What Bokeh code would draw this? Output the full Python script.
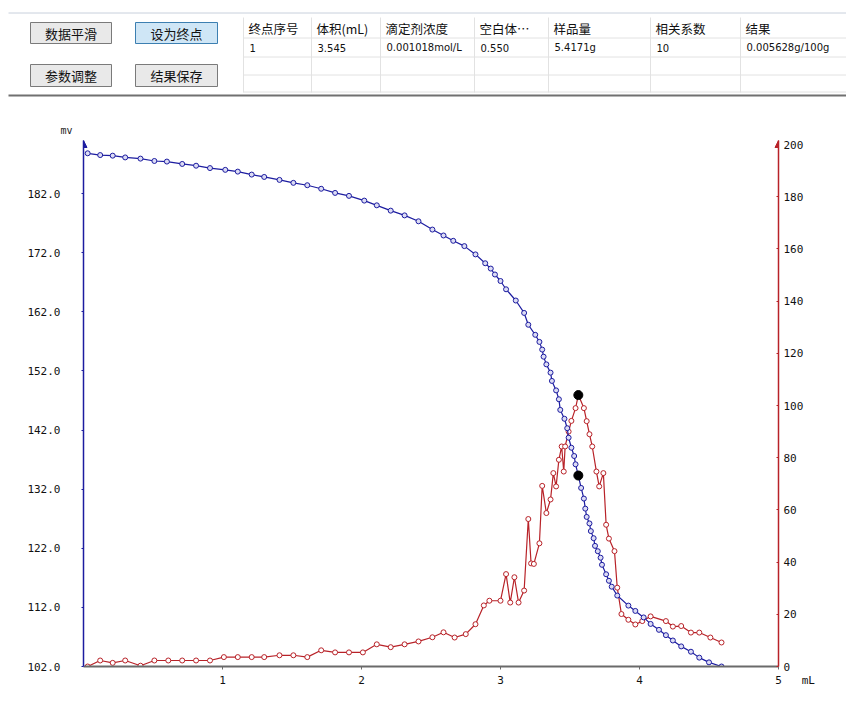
from bokeh.plotting import figure
from bokeh.models import Range1d, LinearAxis, FixedTicker, NumeralTickFormatter, Arrow, NormalHead
from bokeh.core.properties import value
from bokeh.embed import file_html
from bokeh.resources import INLINE

# ---------------- data ----------------
# titration curve: volume (mL) vs potential (mV)
vol_e = [0.03, 0.12, 0.21, 0.30, 0.41, 0.51, 0.60, 0.71, 0.81, 0.91, 1.02, 1.11, 1.21, 1.30, 1.41, 1.51, 1.61, 1.71,
         1.81, 1.91, 2.02, 2.11, 2.21, 2.31, 2.41, 2.51, 2.59, 2.66, 2.74, 2.82, 2.89, 2.93, 2.96, 3.00, 3.04, 3.11,
         3.17, 3.20, 3.25, 3.28, 3.30, 3.31, 3.33, 3.36, 3.37, 3.40, 3.42, 3.43, 3.46, 3.48, 3.49, 3.51, 3.53, 3.54, 3.56,
         3.58, 3.60, 3.61, 3.62, 3.64, 3.65, 3.67, 3.68, 3.70, 3.72, 3.73, 3.76, 3.78, 3.80, 3.84, 3.92, 3.97, 4.03,
         4.08, 4.14, 4.19, 4.24, 4.30, 4.37, 4.43, 4.50, 4.59]
mv = [188.8, 188.5, 188.4, 188.1, 187.9, 187.5, 187.4, 187.0, 186.7, 186.3, 186.0, 185.7, 185.2, 184.8, 184.3, 183.8, 183.4, 182.8,
      182.1, 181.6, 180.8, 180.0, 179.1, 178.3, 177.3, 175.9, 174.9, 174.0, 173.1, 171.7, 170.2, 169.3, 168.3, 167.2, 165.8, 163.9,
      161.8, 159.8, 158.1, 156.9, 155.6, 154.4, 153.1, 151.7, 150.3, 148.7, 147.2, 145.4, 143.9, 142.3, 140.7, 139.0, 137.6, 136.2, 134.3,
      132.2, 130.4, 128.7, 127.3, 126.2, 124.9, 123.7, 122.4, 121.5, 120.4, 119.2, 117.6, 116.5, 115.5, 114.0, 112.3, 111.4, 110.3,
      109.2, 108.2, 107.3, 106.4, 105.4, 104.5, 103.5, 102.7, 102.0]

# first derivative curve (right axis)
vol_d = [0.03, 0.12, 0.21, 0.30, 0.41, 0.51, 0.61, 0.71, 0.81, 0.91, 1.01, 1.11, 1.21, 1.30, 1.41, 1.51, 1.61, 1.71, 1.81, 1.91, 2.01, 2.11, 2.21,
         2.31, 2.41, 2.51, 2.59, 2.67, 2.75, 2.82, 2.88, 2.92, 3.00, 3.04, 3.07, 3.10, 3.13, 3.17, 3.20, 3.22, 3.24, 3.28, 3.30,
         3.33, 3.36, 3.38, 3.40, 3.42, 3.44, 3.455, 3.465, 3.49, 3.51, 3.54, 3.56,
         3.60, 3.62, 3.64, 3.66, 3.69, 3.71, 3.74, 3.76, 3.78, 3.82, 3.84, 3.87, 3.92, 3.97, 4.02, 4.08, 4.19, 4.24, 4.30, 4.37,
         4.43, 4.51, 4.59]
dv = [0, 2.3, 1.4, 2.3, 0.3, 2.3, 2.3, 2.3, 2.3, 2.3, 3.6, 3.6, 3.6, 3.6, 4.3, 4.3, 3.6, 6.2, 5.4, 5.4, 5.4, 8.5, 7.4,
      8.5, 9.6, 11.2, 13.1, 11.1, 12.4, 16.2, 23.4, 25.2, 25.2, 35.4, 24.5, 34.2, 24.5, 29.1, 56.5, 39.5, 39.3, 47.2, 69.2,
      58.8, 64.0, 74.1, 69.0, 79.2, 84.3, 74.7, 84.3, 90.0, 94.1, 99.0, 104.0,
      99.0, 94.0, 89.0, 84.3, 74.7, 69.0, 74.1, 54.3, 49.0, 44.2, 30.2, 20.1, 17.9, 16.1, 17.4, 19.2, 17.4, 15.3, 15.5, 13.0,
      13.0, 11.1, 9.2]

# endpoint markers
ep_vol = [3.56]
ep_mv = [134.3]
ep_dv = [104.0]

left_ticks = [102, 112, 122, 132, 142, 152, 162, 172, 182]
right_ticks = [0, 20, 40, 60, 80, 100, 120, 140, 160, 180, 200]
x_ticks = [1, 2, 3, 4, 5]
y_unit = "mv"
x_unit = "mL"

# header panel content
buttons = ["数据平滑", "设为终点", "参数调整", "结果保存"]
table_headers = ["终点序号", "体积(mL)", "滴定剂浓度", "空白体…", "样品量", "相关系数", "结果"]
table_row = ["1", "3.545", "0.001018mol/L", "0.550", "5.4171g", "10", "0.005628g/100g"]

BLUE = "#1c1ca0"
RED = "#b82228"
MONO = "DejaVu Sans Mono"

# ---------------- header panel ----------------
h = figure(width=846, height=100, x_range=Range1d(0, 846), y_range=Range1d(100, 0),
           x_axis_location=None, y_axis_location=None, min_border=0,
           toolbar_location=None, output_backend="svg")
h.grid.visible = False
h.outline_line_color = None
h.background_fill_color = "white"

# panel frame lines
h.segment(x0=[8], y0=[12.5], x1=[846], y1=[12.5], line_color="#c8d0dc", line_width=1)
h.segment(x0=[8], y0=[95], x1=[846], y1=[95], line_color="#707070", line_width=2)

# buttons
b_left = [30, 135, 30, 135]
b_right = [111, 217, 111, 217]
b_top = [22, 22, 64, 64]
b_bot = [43, 43, 86, 86]
b_fill = ["#e9e9e9", "#cfe6f6", "#e9e9e9", "#e9e9e9"]
b_line = ["#7a7a7a", "#3c7fb1", "#7a7a7a", "#7a7a7a"]
h.quad(left=b_left, right=b_right, top=b_top, bottom=b_bot, fill_color=b_fill, line_color=b_line, line_width=1)
h.text(x=[(l + r) / 2 for l, r in zip(b_left, b_right)], y=[(t + b) / 2 for t, b in zip(b_top, b_bot)],
       text=buttons, text_font=value("Noto Sans CJK SC"), text_font_size="13px",
       text_align="center", text_baseline="middle", text_color="#111111")

# table grid
col_x = [243, 311, 380, 474, 548, 650, 740]
row_y = [37.5, 56.5, 74.5, 91.5]
h.segment(x0=col_x, y0=[17] * len(col_x), x1=col_x, y1=[92] * len(col_x), line_color="#e2e2e2", line_width=1)
h.segment(x0=[243] * len(row_y), y0=row_y, x1=[846] * len(row_y), y1=row_y, line_color="#e2e2e2", line_width=1)
h.text(x=[c + 5 for c in col_x], y=[28] * len(col_x), text=table_headers,
       text_font=value("Noto Sans CJK SC"), text_font_size="12.5px",
       text_align="left", text_baseline="middle", text_color="#111111")
h.text(x=[c + 6 for c in col_x], y=[47] * len(col_x), text=table_row,
       text_font=value("DejaVu Sans"), text_font_size="10px",
       text_align="left", text_baseline="middle", text_color="#111111")

# ---------------- chart ----------------
y_top = 102 + 526 / 5.9125
p = figure(width=838, height=596, x_range=Range1d(0, 5), y_range=Range1d(102, y_top),
           min_border_left=83, min_border_right=60, min_border_top=40, min_border_bottom=30,
           toolbar_location=None, output_backend="svg")
p.grid.visible = False
p.outline_line_color = None
p.extra_y_ranges = {"d": Range1d(0, 526 / 2.61)}

# unit label of the left axis as a left-aligned title
p.title.text = y_unit
p.title.align = "left"
p.title.offset = -23
p.title.standoff = 9
p.title.text_font = MONO
p.title.text_font_size = "10px"
p.title.text_font_style = "normal"
p.title.text_color = "#222222"

# bottom axis
nb = "\u00a0"
xa = p.xaxis[0]
xa.ticker = FixedTicker(ticks=x_ticks)
xa.major_label_overrides = {x_ticks[-1]: nb * 5 + str(x_ticks[-1]) + nb * 3 + x_unit}
xa.axis_line_color = "#6a6a6a"
xa.axis_line_width = 2
xa.major_tick_line_color = "#6a6a6a"
xa.major_tick_out = 3
xa.major_tick_in = 0
xa.minor_tick_line_color = None
xa.major_label_text_font = MONO
xa.major_label_text_font_size = "11px"
xa.major_label_text_color = "#111111"
xa.major_label_standoff = 4

# left axis
ya = p.yaxis[0]
ya.ticker = FixedTicker(ticks=left_ticks)
ya.formatter = NumeralTickFormatter(format="0.0")
ya.axis_line_color = BLUE
ya.axis_line_width = 1.5
ya.major_tick_line_color = BLUE
ya.major_tick_out = 2
ya.major_tick_in = 0
ya.minor_tick_line_color = None
ya.major_label_text_font = MONO
ya.major_label_text_font_size = "11px"
ya.major_label_text_color = "#111111"
ya.major_label_standoff = 21

# right axis
ra = LinearAxis(y_range_name="d", ticker=FixedTicker(ticks=right_ticks))
ra.axis_line_color = RED
ra.axis_line_width = 1.5
ra.major_tick_line_color = RED
ra.major_tick_out = 0
ra.major_tick_in = 2
ra.minor_tick_line_color = None
ra.major_label_text_font = MONO
ra.major_label_text_font_size = "11px"
ra.major_label_text_color = "#111111"
ra.major_label_standoff = 5
p.add_layout(ra, "right")

# axis arrows
p.add_layout(Arrow(end=NormalHead(size=7, fill_color=BLUE, line_color=BLUE), line_color=BLUE,
                   x_start=0, y_start=y_top - 1.5, x_end=0, y_end=y_top))
p.add_layout(Arrow(end=NormalHead(size=7, fill_color=RED, line_color=RED), line_color=RED,
                   x_start=5, y_start=198, x_end=5, y_end=526 / 2.61, y_range_name="d"))

# curves
p.line(vol_d, dv, y_range_name="d", line_color=RED, line_width=1.2)
p.scatter(vol_d, dv, y_range_name="d", marker="circle", size=5, line_color=RED, fill_color="white", line_width=1)
p.line(vol_e, mv, line_color=BLUE, line_width=1.2)
p.scatter(vol_e, mv, marker="circle", size=5, line_color=BLUE, fill_color="#dcdcf4", line_width=1)

# endpoint markers
p.scatter(ep_vol, ep_mv, marker="circle", size=9, color="black")
p.scatter(ep_vol, ep_dv, y_range_name="d", marker="circle", size=9, color="black")

open("out.html", "w").write(file_html([h, p], INLINE))
